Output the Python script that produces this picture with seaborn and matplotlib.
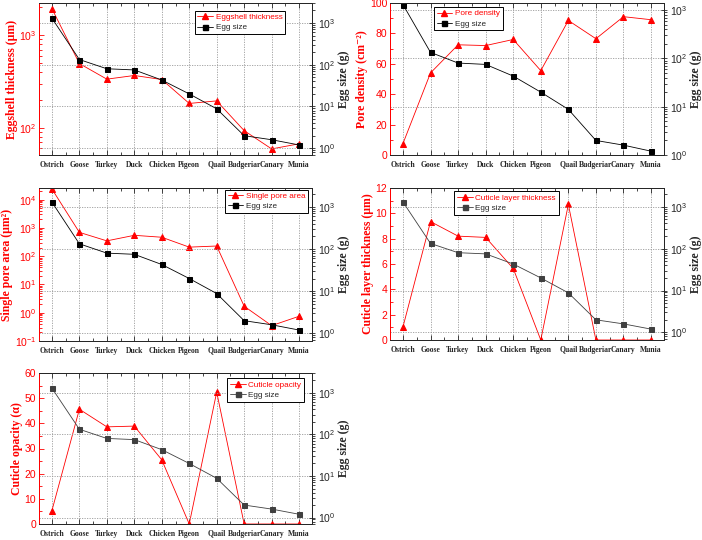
import numpy as np
import pandas as pd
import matplotlib
matplotlib.use('Agg')
import matplotlib.pyplot as plt
import matplotlib.ticker as mticker
from matplotlib.lines import Line2D
import seaborn as sns

birds = ['Ostrich', 'Goose', 'Turkey', 'Duck', 'Chicken', 'Pigeon', 'Quail', 'Budgeriar', 'Canary', 'Munia']
egg_size = [1300, 133, 80, 75, 43, 20, 8.8, 2.0, 1.6, 1.2]
eggshell_thickness = [1940, 494, 335, 367, 332, 183, 195, 93, 59, 67]
pore_density = [7.5, 54, 72.5, 72, 76, 55.5, 88.5, 76.5, 91, 89]
single_pore_area = [24000, 700, 350, 550, 470, 210, 230, 1.7, 0.35, 0.75]
cuticle_thickness = [1.03, 9.35, 8.2, 8.1, 5.65, 0, 10.7, 0, 0, 0]
cuticle_opacity = [5.3, 45.6, 38.6, 38.9, 25.5, 0, 52.4, 0, 0, 0]

sns.set_style('ticks')
plt.rcParams['font.family'] = ['Liberation Sans', 'DejaVu Sans']
plt.rcParams['mathtext.fontset'] = 'custom'
plt.rcParams['mathtext.rm'] = 'Liberation Sans'
plt.rcParams['mathtext.it'] = 'Liberation Sans:italic'
plt.rcParams['mathtext.bf'] = 'Liberation Sans:bold'

SERIF = ['Liberation Serif', 'DejaVu Serif']

# panel: values, ylabel, legend label, log, ylim, right ylim, rect(px), legend anchor, egg colour
panels = [
    (eggshell_thickness, 'Eggshell thickness (μm)', 'Eggshell thickness', True, (50.7, 2230), (0.69, 3000),
     (39, 3, 273, 152), (0.57, 0.95), 'black'),
    (pore_density, 'Pore density (cm⁻²)', 'Pore density', False, (0, 100), (1, 1400),
     (390, 3, 274, 152), (0.16, 0.975), 'black'),
    (single_pore_area, 'Single pore area (μm²)', 'Single pore area', True, (0.1, 26000), (0.66, 2800),
     (39, 188, 273, 153), (0.68, 0.99), 'black'),
    (cuticle_thickness, 'Cuticle layer thickness (μm)', 'Cuticle layer thickness', False, (0, 12), (0.66, 2800),
     (390, 188, 274, 152), (0.235, 0.98), '#404040'),
    (cuticle_opacity, 'Cuticle opacity (α)', 'Cuticle opacity', False, (0, 60), (0.7, 3000),
     (39, 373, 273, 151), (0.69, 0.965), '#404040'),
]

W, H = 702, 540
fig = plt.figure(figsize=(W / 100, H / 100), dpi=100)
pos = np.arange(len(birds))
gridcol = '#9a9a9a'
gridls = (0, (1.5, 1.5))

for vals, ylab, lab, logy, ylim, rlim, rect, anchor, ecol in panels:
    x0, y0, w, h = rect
    ax = fig.add_axes([x0 / W, 1 - (y0 + h) / H, w / W, h / H])
    df = pd.DataFrame({'pos': pos, 'val': vals, 'egg': egg_size})
    # vertical grid at each bird (twin axis hides its own x axis)
    ax.grid(True, which='major', axis='x', color=gridcol, linestyle=gridls, linewidth=0.6)
    ax.set_axisbelow(True)
    sns.lineplot(data=df, x='pos', y='val', ax=ax, color='red', marker='^', markersize=4.5,
                 markeredgecolor='red', linewidth=0.6, legend=False, sort=False)
    if logy:
        ax.set_yscale('log')
    ax.set_ylim(*ylim)
    ax.set_xlim(-0.47, 9.47)
    ax.set_xticks(pos)
    ax.set_xticks(pos[:-1] + 0.5, minor=True)
    ax.set_xticklabels(birds, fontfamily=SERIF, fontweight='bold', fontsize=5.5)
    ax.set_xlabel('')
    ax.set_ylabel(ylab, color='red', fontfamily=SERIF, fontweight='bold', fontsize=8.5, labelpad=1)
    ax.tick_params(axis='x', which='both', direction='in', top=True, width=0.6, pad=4)
    ax.tick_params(axis='x', which='major', length=3.5)
    ax.tick_params(axis='x', which='minor', length=2)
    ax.tick_params(axis='y', which='both', direction='in', colors='red', labelsize=7.5, width=0.6, pad=2)
    ax.tick_params(axis='y', which='major', length=3.5)
    ax.tick_params(axis='y', which='minor', length=2)
    if not logy:
        ax.yaxis.set_major_locator(mticker.MultipleLocator(ylim[1] / 6 if ylim[1] != 100 else 20))
        ax.yaxis.set_minor_locator(mticker.AutoMinorLocator(2))
    ax.spines['left'].set_color('red')
    for s in ax.spines.values():
        s.set_linewidth(0.7)

    ax2 = ax.twinx()
    sns.lineplot(data=df, x='pos', y='egg', ax=ax2, color=ecol, marker='s', markersize=3.6,
                 markeredgecolor=ecol, linewidth=0.6, legend=False, sort=False)
    ax2.set_yscale('log')
    ax2.set_ylim(*rlim)
    ax2.set_xlim(-0.47, 9.47)
    ax2.set_ylabel('Egg size (g)', fontfamily=SERIF, fontweight='bold', fontsize=8.5, labelpad=2)
    ax2.yaxis.set_major_locator(mticker.LogLocator(base=10, numticks=10))
    ax2.yaxis.set_minor_locator(mticker.LogLocator(base=10, subs=np.arange(2, 10), numticks=10))
    ax2.yaxis.set_minor_formatter(mticker.NullFormatter())
    ax2.tick_params(axis='y', which='major', direction='inout', length=5, width=0.6, labelsize=7.5, pad=1.5)
    ax2.tick_params(axis='y', which='minor', direction='out', length=2, width=0.6)
    ax2.spines['left'].set_color('red')
    for s in ax2.spines.values():
        s.set_linewidth(0.7)
    ax2.grid(True, which='major', axis='y', color=gridcol, linestyle=gridls, linewidth=0.6)
    ax2.set_axisbelow(True)

    handles = [Line2D([], [], color='red', marker='^', markersize=4.5, linewidth=0.6),
               Line2D([], [], color=ecol, marker='s', markersize=3.6, linewidth=0.6)]
    leg = ax2.legend(handles, [lab, 'Egg size'], loc='upper left', bbox_to_anchor=anchor,
                     fontsize=5.9, frameon=True, fancybox=False, edgecolor='black', framealpha=1,
                     handlelength=1.9, handletextpad=0.3, borderpad=0.35, labelspacing=0.3,
                     borderaxespad=0)
    leg.get_frame().set_linewidth(0.7)
    leg.get_texts()[0].set_color('red')

fig.savefig('out.png', dpi=100)
